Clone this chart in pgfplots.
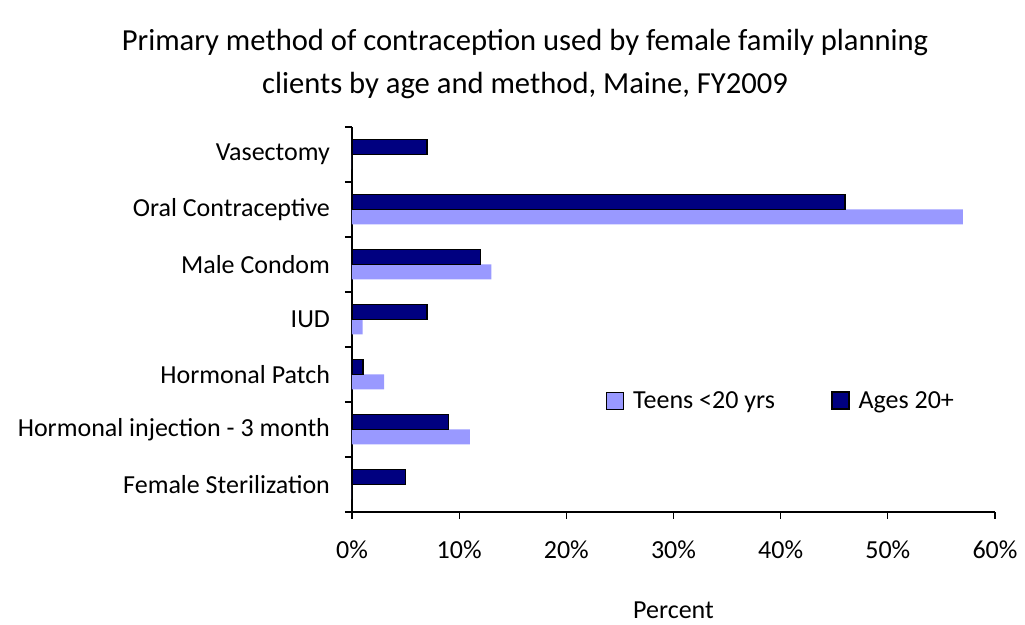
\documentclass[border=0pt]{standalone}
\usepackage{fontspec}
\setmainfont{Carlito}
\usepackage{pgfplots}
\pgfplotsset{compat=1.18}
\definecolor{teen}{HTML}{9999FF}
\definecolor{adult}{HTML}{000080}

\begin{document}
\begin{tikzpicture}
\useasboundingbox (0,0) rectangle (512.5pt,312.5pt);
\node[font=\fontsize{15.3}{21.5}\selectfont, align=center] at (262.5pt,280.5pt)
  {Primary method of contraception used by female family planning\\clients by age and method, Maine, FY2009};
\begin{axis}[
    at={(176pt,56.5pt)}, anchor=south west,
    scale only axis,
    width=321.5pt, height=192.5pt,
    xbar, bar width=7.5pt,
    xmin=0, xmax=60,
    ymin=-0.5, ymax=6.5,
    axis lines*=left,
    axis line style={black, line width=0.6pt},
    tick align=outside,
    xtick={0,10,...,60},
    xticklabel={\pgfmathprintnumber{\tick}\%},
    xticklabel style={yshift=-7.5pt},
    major tick length=3.5pt,
    tick style={black, line width=0.6pt},
    ytick={0,...,6},
    yticklabels={Female Sterilization, Hormonal injection - 3 month, Hormonal Patch, IUD, Male Condom, Oral Contraceptive, Vasectomy},
    y tick style={draw=none},
    yticklabel style={xshift=-4pt},
    minor ytick={-0.5,0.5,...,6.5},
    minor y tick style={draw=black, line width=0.6pt},
    minor tick length=3.5pt,
    ticklabel style={font=\fontsize{13}{15}\selectfont},
    /pgf/number format/assume math mode=true,
    xlabel={Percent},
    xlabel style={font=\fontsize{13}{15}\selectfont, yshift=-14.5pt},
    legend style={at={(0.669,0.288)}, anchor=center, draw=none, fill=none,
      font=\fontsize{13}{15}\selectfont, legend columns=2,
      /tikz/every even column/.append style={column sep=26pt}},
    legend image code/.code={\draw[#1] (0pt,-4pt) rectangle (8.5pt,4.5pt);},
]
\addplot[fill=teen, draw=none, bar shift=-3.75pt] coordinates {
  (0,0) (11,1) (3,2) (1,3) (13,4) (57,5) (0,6)};
\addlegendentry{\hspace{2.5pt}Teens <20 yrs}
\addplot[fill=adult, draw=black, line width=0.8pt, bar shift=3.75pt] coordinates {
  (5,0) (9,1) (1,2) (7,3) (12,4) (46,5) (7,6)};
\addlegendentry{\hspace{2.5pt}Ages 20+}
\end{axis}
\end{tikzpicture}
\end{document}
